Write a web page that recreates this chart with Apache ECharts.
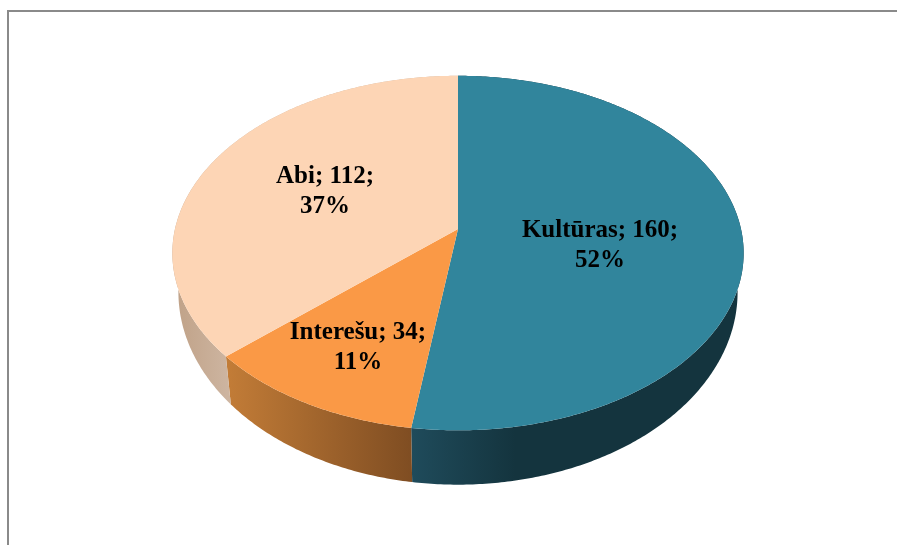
<!DOCTYPE html>
<html>
<head>
<meta charset="utf-8">
<title>Chart</title>
<style>
html, body { margin: 0; padding: 0; background: #fff; }
#main { width: 897px; height: 545px; }
</style>
<script src="https://cdn.jsdelivr.net/npm/echarts@6/dist/echarts.min.js"></script>
</head>
<body>
<div id="main"></div>
<script>
var categories = ['Kultūras', 'Interešu', 'Abi'];
var counts = [160, 34, 112];
var percents = [52, 11, 37];

var topColors = ['#31859c', '#fa9946', '#fdd5b5'];
var wallStops = [
    [[0, '#1f4b5b'], [0.2, '#14343e'], [1, '#14343e']],
    [[0, '#c27c37'], [1, '#7f4d22']],
    [[0, '#c0a288'], [1, '#ceb6a2']]
];
var wallRanges = [[412, 930], [228, 412], [176, 232]];
// label centres, line one
var labelPos = [[600, 229], [358, 331], [325, 175]];

// the disc is drawn in perspective: far side smaller than near side
var topFace = { cx: 458, cy: 229, a: 283, b: 174, k: 0.1357 };
var lowFace = { cx: 458, cy: 266, a: 277, b: 189, k: 0.1357 };

var total = counts.reduce(function (s, v) { return s + v; }, 0);

function project(face, t, f) {
    var u = Math.sin(t) * f, v = Math.cos(t) * f, w = 1 + face.k * v;
    return [face.cx + face.a * u / w, face.cy - face.b * v / w];
}

function sliceAngles(i) {
    var before = 0;
    for (var n = 0; n < i; n++) before += counts[n];
    return [before / total * Math.PI * 2, (before + counts[i]) / total * Math.PI * 2];
}

function arcPoints(face, t0, t1) {
    var pts = [], steps = Math.ceil((t1 - t0) / 0.01);
    for (var s = 0; s <= steps; s++) pts.push(project(face, t0 + (t1 - t0) * s / steps, 1));
    return pts;
}

function renderWall(params, api) {
    var i = params.dataIndex, ang = sliceAngles(i);
    var pts = arcPoints(topFace, ang[0], ang[1]).concat(arcPoints(lowFace, ang[0], ang[1]).reverse());
    var range = wallRanges[i];
    return {
        type: 'polygon',
        shape: { points: pts },
        style: {
            fill: new echarts.graphic.LinearGradient(range[0], 0, range[1], 0,
                wallStops[i].map(function (s) { return { offset: s[0], color: s[1] }; }), true)
        }
    };
}

function renderTop(params, api) {
    var i = params.dataIndex, ang = sliceAngles(i);
    var pts = [project(topFace, 0, 0)].concat(arcPoints(topFace, ang[0], ang[1]));
    return { type: 'polygon', shape: { points: pts }, style: { fill: topColors[i] } };
}

function renderLabel(params, api) {
    var i = params.dataIndex;
    return {
        type: 'text',
        x: labelPos[i][0],
        y: labelPos[i][1] - 13,
        style: {
            text: categories[i] + '; ' + api.value(0) + ';\n' + percents[i] + '%',
            fill: '#000',
            font: 'bold 25px "Liberation Serif"',
            lineHeight: 30,
            align: 'center',
            verticalAlign: 'top'
        }
    };
}

var option = {
    backgroundColor: '#fff',
    animation: false,
    graphic: [
        {
            type: 'polyline',
            silent: true,
            shape: { points: [[8, 545], [8, 11], [897, 11]] },
            style: { stroke: '#8a8a8a', lineWidth: 2, fill: null }
        }
    ],
    series: [
        { type: 'custom', coordinateSystem: 'none', z: 1, renderItem: renderWall, data: counts, silent: true },
        { type: 'custom', coordinateSystem: 'none', z: 2, renderItem: renderTop, data: counts, silent: true },
        { type: 'custom', coordinateSystem: 'none', z: 3, renderItem: renderLabel, data: counts, silent: true }
    ]
};

echarts.init(document.getElementById('main'), null, { renderer: 'canvas' }).setOption(option);
</script>
</body>
</html>
